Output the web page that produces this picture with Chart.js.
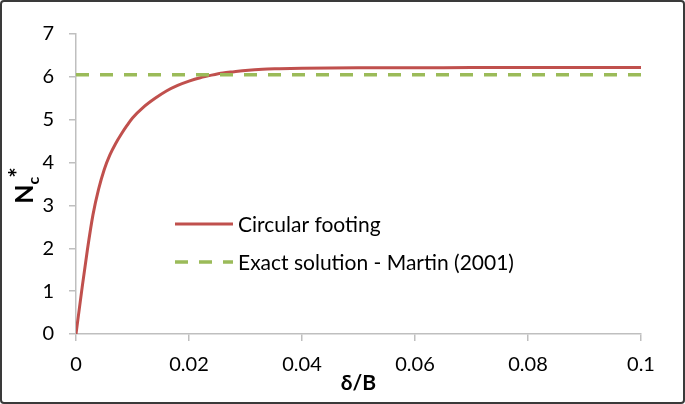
<!DOCTYPE html>
<html>
<head>
<meta charset="utf-8">
<script src="https://cdn.jsdelivr.net/npm/chart.js@4/dist/chart.umd.min.js"></script>
<style>
  html, body { margin: 0; padding: 0; background: #fff; }
  #wrap { width: 685px; height: 404px; position: relative; }
</style>
</head>
<body>
<div id="wrap"><canvas id="chart" width="685" height="404"></canvas></div>
<script>
// values
const deltaB = [0, 0.001, 0.002, 0.003, 0.004, 0.005, 0.006, 0.007, 0.008, 0.009, 0.010, 0.012,
  0.014, 0.016, 0.018, 0.020, 0.022, 0.024, 0.026, 0.028, 0.030, 0.033, 0.036, 0.040, 0.050,
  0.060, 0.070, 0.080, 0.090, 0.100];
const ncCircular = [0, 1.0, 1.95, 2.78, 3.38, 3.84, 4.18, 4.44, 4.66, 4.86, 5.04, 5.3,
  5.5, 5.67, 5.8, 5.9, 5.98, 6.04, 6.09, 6.12, 6.15, 6.18, 6.19, 6.2, 6.21,
  6.21, 6.22, 6.22, 6.22, 6.22];
const exactX = [0, 0.1];
const exactNc = [6.05, 6.05];
const seriesNames = ['Circular footing', 'Exact solution - Martin (2001)'];
const xTicks = [0, 0.02, 0.04, 0.06, 0.08, 0.1];
const yTicks = [0, 1, 2, 3, 4, 5, 6, 7];
const xTitle = 'δ/B';
const yTitle = ['N', 'c', '*']; // base, subscript, superscript

const FONT = 'Lato, "Open Sans", sans-serif';
const RED = '#C0504D';
const GREEN = '#9BBB59';
const AXIS = '#BFBFBF';

// frame, y title with subscript and legend inside the plot
const extras = {
  id: 'extras',
  afterDraw(chart) {
    const ctx = chart.ctx;
    ctx.save();
    // outer frame
    ctx.strokeStyle = '#3a3a3a';
    ctx.lineWidth = 2;
    ctx.beginPath();
    ctx.roundRect(1, 1, chart.width - 2, chart.height - 2, 3);
    ctx.stroke();

    // y title rotated
    ctx.translate(33, 185);
    ctx.rotate(-Math.PI / 2);
    ctx.fillStyle = '#000';
    ctx.textBaseline = 'alphabetic';
    ctx.textAlign = 'left';
    const big = 'bold 25px ' + FONT, small = 'bold 16px ' + FONT;
    ctx.font = big;
    const wN = ctx.measureText(yTitle[0]).width;
    const wS = ctx.measureText(yTitle[2]).width;
    ctx.font = small;
    const wC = ctx.measureText(yTitle[1]).width;
    const x0 = -(wN + wC + wS) / 2;
    ctx.font = big;
    ctx.fillText(yTitle[0], x0, 0);
    ctx.fillText(yTitle[2], x0 + wN + wC - 1, -6);
    ctx.font = small;
    ctx.fillText(yTitle[1], x0 + wN, 6);
    ctx.restore();

    // legend
    ctx.save();
    ctx.font = '21px ' + FONT;
    ctx.textBaseline = 'middle';
    ctx.fillStyle = '#000';
    chart.data.datasets.forEach((ds, i) => {
      const y = 224 + i * 38;
      ctx.strokeStyle = ds.borderColor;
      ctx.lineWidth = ds.borderWidth;
      ctx.setLineDash(ds.borderDash || []);
      ctx.beginPath();
      ctx.moveTo(175, y);
      ctx.lineTo(233, y);
      ctx.stroke();
      ctx.setLineDash([]);
      ctx.fillText(ds.label, 238, y + 1);
    });
    ctx.restore();
  }
};

new Chart(document.getElementById('chart'), {
  type: 'line',
  data: {
    datasets: [{
      label: seriesNames[0],
      data: deltaB.map((x, i) => ({ x, y: ncCircular[i] })),
      borderColor: RED,
      borderWidth: 3,
      pointRadius: 0,
      cubicInterpolationMode: 'monotone',
      order: 1
    }, {
      label: seriesNames[1],
      data: exactX.map((x, i) => ({ x, y: exactNc[i] })),
      borderColor: GREEN,
      borderWidth: 3.5,
      borderDash: [13, 11],
      pointRadius: 0,
      order: 0
    }]
  },
  options: {
    responsive: false,
    animation: false,
    layout: { padding: { top: 34, right: 44, left: 0, bottom: 0 } },
    plugins: { legend: { display: false }, tooltip: { enabled: false } },
    scales: {
      x: {
        type: 'linear',
        min: 0, max: 0.1,
        afterBuildTicks: s => { s.ticks = xTicks.map(v => ({ value: v })); },
        afterFit: s => { s.height = 70; },
        border: { color: AXIS, width: 1.5 },
        grid: { drawOnChartArea: false, drawTicks: true, tickLength: 7, color: AXIS, lineWidth: 1.5 },
        ticks: {
          color: '#000', font: { family: FONT, size: 20 }, padding: 12,
          callback: v => String(+v.toFixed(2))
        },
        title: { display: true, text: xTitle, color: '#000', font: { family: FONT, size: 21, weight: 'bold' }, padding: { top: 0, bottom: 8 } }
      },
      y: {
        min: 0, max: 7,
        afterBuildTicks: s => { s.ticks = yTicks.map(v => ({ value: v })); },
        afterFit: s => { s.width = 76; },
        border: { color: AXIS, width: 1.5 },
        grid: { drawOnChartArea: false, drawTicks: true, tickLength: 7, color: AXIS, lineWidth: 1.5 },
        ticks: { color: '#000', font: { family: FONT, size: 20 }, padding: 15 }
      }
    }
  },
  plugins: [extras]
});
</script>
</body>
</html>
